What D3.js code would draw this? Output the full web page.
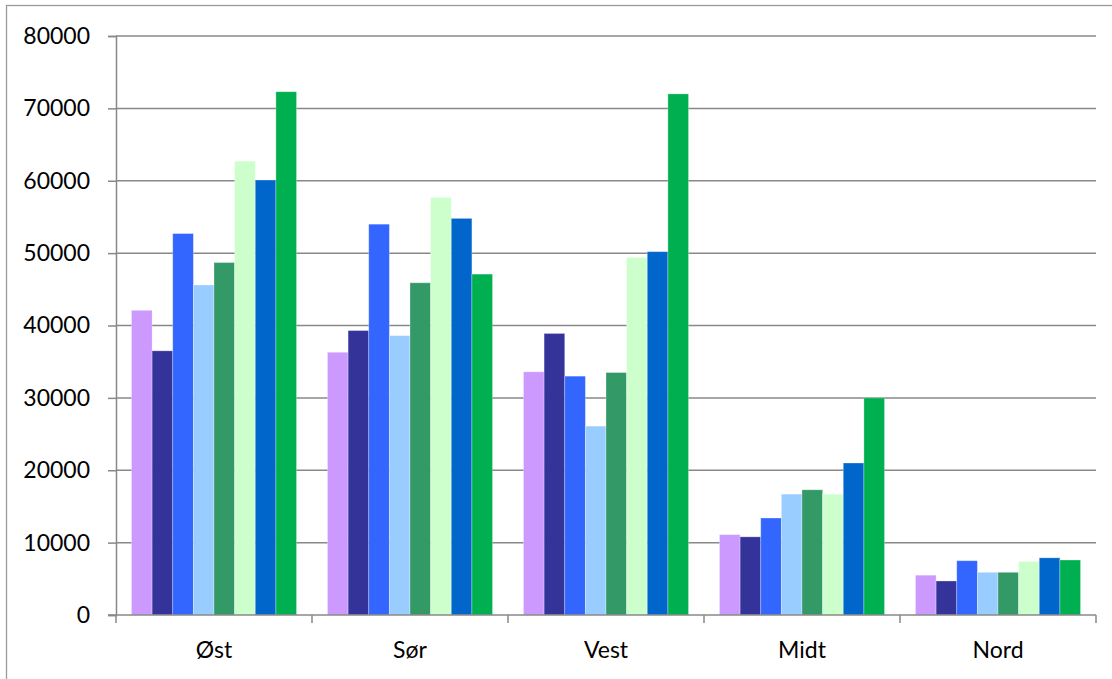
<!DOCTYPE html>
<html>
<head>
<meta charset="utf-8">
<script src="https://cdn.jsdelivr.net/npm/d3@7"></script>
<style>
  body { margin: 0; background: #fff; }
  svg { display: block; font-family: Lato, "Noto Sans", sans-serif; }
</style>
</head>
<body>
<div id="chart"></div>
<script>
// data
var regions = ["Øst", "Sør", "Vest", "Midt", "Nord"];
var seriesColors = ["#CC99FF", "#333399", "#3366FF", "#99CCFF", "#339966", "#CCFFCC", "#0066CC", "#00B050"];
var s1 = [42100, 36300, 33600, 11100, 5500];
var s2 = [36500, 39300, 38900, 10800, 4700];
var s3 = [52700, 54000, 33000, 13400, 7500];
var s4 = [45600, 38600, 26100, 16700, 5900];
var s5 = [48700, 45900, 33500, 17300, 5900];
var s6 = [62700, 57700, 49400, 16700, 7400];
var s7 = [60100, 54800, 50200, 21000, 7900];
var s8 = [72300, 47100, 72000, 30000, 7600];
var yTicks = [0, 10000, 20000, 30000, 40000, 50000, 60000, 70000, 80000];

var series = [s1, s2, s3, s4, s5, s6, s7, s8];

var width = 1112, height = 679;
var margin = {left: 116, right: 16, top: 36, bottom: 64};

var svg = d3.select("#chart").append("svg")
    .attr("width", width)
    .attr("height", height);

// outer chart frame (runs off the right and bottom edge)
svg.append("rect")
    .attr("x", 6.5).attr("y", 5.5)
    .attr("width", 1200).attr("height", 1000)
    .attr("fill", "none")
    .attr("stroke", "#9a9a9a")
    .attr("stroke-width", 1.3);

var x0 = d3.scaleBand()
    .domain(regions)
    .range([margin.left, width - margin.right]);

// Excel style gap width 150%: 8 bars + 1.5 bar of gap per category
var barW = x0.bandwidth() / 9.5;
var x1 = d3.scaleBand()
    .domain(d3.range(series.length))
    .range([barW * 0.75, barW * 8.75]);

var y = d3.scaleLinear()
    .domain([0, 80000])
    .range([height - margin.bottom, margin.top]);

// gridlines
svg.append("g")
    .selectAll("line")
    .data(yTicks.slice(1))
    .enter().append("line")
    .attr("x1", margin.left)
    .attr("x2", width - margin.right)
    .attr("y1", function(d) { return y(d); })
    .attr("y2", function(d) { return y(d); })
    .attr("stroke", "#888")
    .attr("stroke-width", 1.5);

// bars
var groups = svg.append("g")
    .selectAll("g")
    .data(series)
    .enter().append("g")
    .attr("fill", function(d, i) { return seriesColors[i]; });

groups.each(function(vals, si) {
    d3.select(this).selectAll("rect")
        .data(vals)
        .enter().append("rect")
        .attr("x", function(d, ci) { return x0(regions[ci]) + x1(si); })
        .attr("width", x1.bandwidth())
        .attr("y", function(d) { return y(d); })
        .attr("height", function(d) { return y(0) - y(d); })
        .attr("stroke", "rgba(255,255,255,0.35)")
        .attr("stroke-width", 0.8);
});

// y axis
var yAxis = svg.append("g")
    .attr("transform", "translate(" + margin.left + ",0)")
    .call(d3.axisLeft(y).tickValues(yTicks).tickSize(8).tickPadding(18).tickFormat(d3.format("d")));
yAxis.select(".domain").attr("stroke", "#888").attr("stroke-width", 1.5);
yAxis.selectAll(".tick line").attr("stroke", "#888").attr("stroke-width", 1.5);
yAxis.selectAll("text")
    .style("font-size", "23px")
    .style("font-family", "Lato, Noto Sans, sans-serif")
    .attr("fill", "#000");

// x axis, ticks between categories
var xAxis = svg.append("g")
    .attr("transform", "translate(0," + y(0) + ")");
xAxis.append("line")
    .attr("x1", margin.left - 8).attr("x2", width - margin.right)
    .attr("stroke", "#888").attr("stroke-width", 1.5);
xAxis.selectAll("line.tick")
    .data(regions.concat(["end"]))
    .enter().append("line")
    .attr("class", "tick")
    .attr("x1", function(d, i) { return margin.left + i * x0.bandwidth(); })
    .attr("x2", function(d, i) { return margin.left + i * x0.bandwidth(); })
    .attr("y1", 0).attr("y2", 8)
    .attr("stroke", "#888").attr("stroke-width", 1.5);
xAxis.selectAll("text")
    .data(regions)
    .enter().append("text")
    .attr("x", function(d) { return x0(d) + x0.bandwidth() / 2; })
    .attr("y", 43)
    .attr("text-anchor", "middle")
    .style("font-size", "23px")
    .text(function(d) { return d; });
</script>
</body>
</html>
